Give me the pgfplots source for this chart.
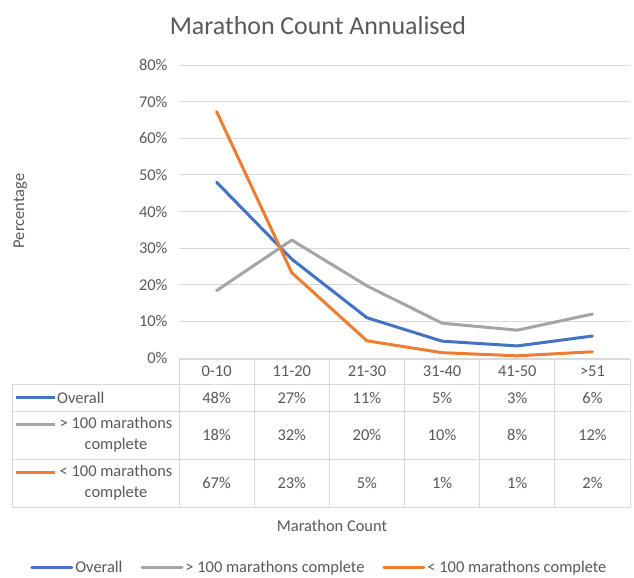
\documentclass[border=0pt]{standalone}
\usepackage{pgfplots}
\pgfplotsset{compat=1.18}
\usepackage{fontspec}
\setmainfont{Carlito}
\definecolor{cblue}{HTML}{4472C4}
\definecolor{cgray}{HTML}{A5A5A5}
\definecolor{corange}{HTML}{ED7D31}
\definecolor{ctext}{HTML}{595959}
\definecolor{cgrid}{HTML}{D9D9D9}
\newcommand{\sm}{\fontsize{16.5}{21}\selectfont}
\begin{document}
\begin{tikzpicture}[x=1bp,y=1bp]
\useasboundingbox (0,0) rectangle (634,-578);
\fill[white] (0,0) rectangle (634,-578);
\begin{axis}[
  at={(179bp,-358bp)}, anchor=south west,
  scale only axis, width=451bp, height=293bp,
  xmin=-0.5, xmax=5.5, ymin=0, ymax=80,
  axis line style={draw=none},
  major tick length=0pt,
  xtick=\empty,
  ytick={0,10,20,30,40,50,60,70,80},
  yticklabels={0\%,10\%,20\%,30\%,40\%,50\%,60\%,70\%,80\%},
  yticklabel style={font=\sm, text=ctext, xshift=-8bp},
  ymajorgrids, grid style={cgrid, line width=1bp},
  legend columns=3,
  legend style={draw=none, fill=none, inner sep=0pt, at={(-0.33,-0.716)}, anchor=west,
    font=\sm, text=ctext,
    /tikz/every even column/.append style={column sep=16bp}},
  legend image code/.code={\draw[#1] (0bp,0bp) -- (40bp,0bp);},
  clip=false,
]
\addplot[cblue, line width=3bp, line join=round, line cap=round] coordinates {(0,48.0)(1,27.0)(2,11.0)(3,4.6)(4,3.3)(5,6.0)};
\addlegendentry{Overall}
\addplot[cgray, line width=3bp, line join=round, line cap=round] coordinates {(0,18.4)(1,32.2)(2,19.7)(3,9.5)(4,7.6)(5,12.0)};
\addlegendentry{> 100 marathons complete}
\addplot[corange, line width=3bp, line join=round, line cap=round] coordinates {(0,67.3)(1,23.3)(2,4.7)(3,1.45)(4,0.6)(5,1.7)};
\addlegendentry{< 100 marathons complete}
\end{axis}
% title
\node[font=\fontsize{26}{30}\selectfont, text=ctext, anchor=base] at (318,-35) {Marathon Count Annualised};
% y label
\node[font=\sm, text=ctext, rotate=90, anchor=base] at (24,-211) {Percentage};
% x label
\node[font=\sm, text=ctext] at (332,-526) {Marathon Count};
% data table grid
\begin{scope}[cgrid, line width=1bp]
\draw (179,-359) -- (630,-359);
\foreach \xx in {179,254.17,329.33,404.5,479.67,554.83,630} {\draw (\xx,-359) -- (\xx,-507);}
\draw (12,-384) -- (12,-507);
\foreach \yy in {-384,-411,-459,-507} {\draw (12,\yy) -- (630,\yy);}
\end{scope}
% header
\foreach \lab [count=\i from 0] in {0-10,11-20,21-30,31-40,41-50,>51} {
  \node[font=\sm, text=ctext] at (216.6+75.17*\i,-371.5) {\lab};
}
% rows
\foreach \v [count=\i from 0] in {48\%,27\%,11\%,5\%,3\%,6\%} {\node[font=\sm, text=ctext] at (216.6+75.17*\i,-397.5) {\v};}
\foreach \v [count=\i from 0] in {18\%,32\%,20\%,10\%,8\%,12\%} {\node[font=\sm, text=ctext] at (216.6+75.17*\i,-435) {\v};}
\foreach \v [count=\i from 0] in {67\%,23\%,5\%,1\%,1\%,2\%} {\node[font=\sm, text=ctext] at (216.6+75.17*\i,-483) {\v};}
% row labels
\draw[cblue, line width=3bp] (16,-397.5) -- (55,-397.5);
\node[font=\sm, text=ctext, anchor=west, inner sep=1bp] at (56,-397.5) {Overall};
\draw[cgray, line width=3bp] (16,-424) -- (55,-424);
\node[font=\sm, text=ctext, align=center, inner sep=0pt] at (116,-434.5) {> 100 marathons\\complete};
\draw[corange, line width=3bp] (16,-472) -- (55,-472);
\node[font=\sm, text=ctext, align=center, inner sep=0pt] at (116,-482.5) {< 100 marathons\\complete};
\end{tikzpicture}
\end{document}
